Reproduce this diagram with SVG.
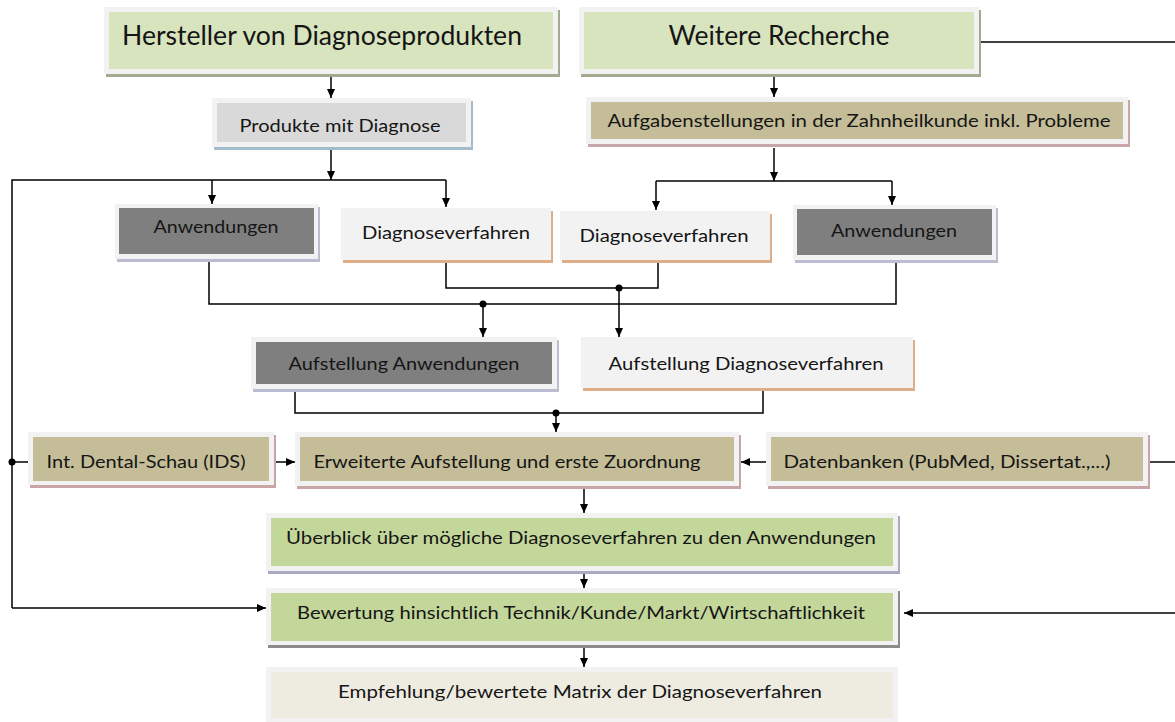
<svg xmlns="http://www.w3.org/2000/svg" width="1175" height="722" viewBox="0 0 1175 722">
  <style>
    text { font-family: "Lato", "Liberation Sans", sans-serif; fill: #151515; text-anchor: middle; }
    .t  { font-size: 17.5px; }
    .tt { font-size: 27px; }
    .frame { fill: #f2f2f2; }
    .f-green  { fill: #d7e4bd; }
    .f-green2 { fill: #c4d79b; }
    .f-gray   { fill: #d9d9d9; }
    .f-tan    { fill: #c4bd97; }
    .f-dark   { fill: #7f7f7f; }
    .f-light  { fill: #f2f2f2; }
    .f-cream  { fill: #eeece1; }
    .s-green  { fill: #a2aa8f; }
    .s-blue   { fill: #a3bccd; }
    .s-pink   { fill: #c8a6a8; }
    .s-lav    { fill: #bcbcd0; }
    .s-orange { fill: #dcae8a; }
    .s-lav2   { fill: #a9a9bf; }
    .s-dgray  { fill: #8c8c8c; }
    .line  { fill: none; stroke: #000; stroke-width: 1.5; }
    .arrow { fill: none; stroke: #000; stroke-width: 1.5; marker-end: url(#head); }
    .dot   { fill: #000; }
  </style>
  <defs>
    <marker id="head" markerUnits="userSpaceOnUse" markerWidth="10" markerHeight="10" refX="9" refY="4" orient="auto">
      <path d="M0,0 L9,4 L0,8 z" fill="#000"/>
    </marker>
  </defs>

  <rect width="1175" height="722" fill="#ffffff"/>

  <!-- connectors -->
  <g id="connectors">
    <line class="arrow" x1="331" y1="77" x2="331" y2="98"/>
    <line class="arrow" x1="331" y1="150" x2="331" y2="180"/>
    <polyline class="line" points="446,180 12,180 12,608"/>
    <line class="arrow" x1="212" y1="180" x2="212" y2="204"/>
    <line class="arrow" x1="446" y1="180" x2="446" y2="207"/>
    <polyline class="arrow" points="12,608 266,608"/>

    <line class="line" x1="979" y1="42" x2="1175" y2="42"/>
    <line class="arrow" x1="774" y1="77" x2="774" y2="97"/>
    <line class="arrow" x1="774" y1="148" x2="774" y2="181"/>
    <line class="line" x1="656" y1="181" x2="892" y2="181"/>
    <line class="arrow" x1="656" y1="181" x2="656" y2="210"/>
    <line class="arrow" x1="892" y1="181" x2="892" y2="205"/>

    <polyline class="line" points="209,262 209,304 896,304 896,263"/>
    <circle class="dot" cx="483" cy="304" r="3.5"/>
    <line class="arrow" x1="483" y1="304" x2="483" y2="337"/>
    <polyline class="line" points="446,262 446,288 658,288 658,262"/>
    <circle class="dot" cx="619" cy="288" r="3.5"/>
    <line class="arrow" x1="619" y1="288" x2="619" y2="337"/>

    <polyline class="line" points="295,391 295,413 763,413 763,390"/>
    <circle class="dot" cx="556" cy="413" r="3.5"/>
    <line class="arrow" x1="556" y1="413" x2="556" y2="432"/>

    <circle class="dot" cx="12" cy="462" r="3.5"/>
    <line class="line" x1="12" y1="462" x2="28" y2="462"/>
    <line class="arrow" x1="276" y1="462" x2="295" y2="462"/>
    <line class="arrow" x1="766" y1="462" x2="741" y2="462"/>
    <line class="line" x1="1150" y1="462" x2="1175" y2="462"/>

    <line class="arrow" x1="584" y1="489" x2="584" y2="513"/>
    <line class="arrow" x1="584" y1="574" x2="584" y2="588"/>
    <line class="arrow" x1="1175" y1="613" x2="904" y2="613"/>
    <line class="arrow" x1="584" y1="648" x2="584" y2="667"/>
  </g>

  <!-- nodes -->
  <g id="hersteller">
    <rect class="s-green" x="106" y="10" width="454" height="67"/>
    <rect class="frame" x="104" y="7" width="454" height="67"/>
    <rect class="f-green" x="109" y="12" width="444" height="57"/>
    <text class="tt" x="322" y="45" textLength="400" lengthAdjust="spacingAndGlyphs">Hersteller von Diagnoseprodukten</text>
  </g>

  <g id="recherche">
    <rect class="s-green" x="581" y="10" width="400" height="67"/>
    <rect class="frame" x="579" y="7" width="400" height="67"/>
    <rect class="f-green" x="584" y="12" width="390" height="57"/>
    <text class="tt" x="779" y="45" textLength="221" lengthAdjust="spacingAndGlyphs">Weitere Recherche</text>
  </g>

  <g id="produkte">
    <rect class="s-blue" x="214" y="101" width="259" height="49"/>
    <rect class="frame" x="212" y="98" width="259" height="49"/>
    <rect class="f-gray" x="217" y="103" width="249" height="39"/>
    <text class="t" x="340" y="132" textLength="201" lengthAdjust="spacingAndGlyphs">Produkte mit Diagnose</text>
  </g>

  <g id="aufgaben">
    <rect class="s-pink" x="588" y="100" width="542" height="47"/>
    <rect class="frame" x="586" y="97" width="542" height="47"/>
    <rect class="f-tan" x="591" y="102" width="532" height="37"/>
    <text class="t" x="859" y="127" textLength="503" lengthAdjust="spacingAndGlyphs">Aufgabenstellungen in der Zahnheilkunde inkl. Probleme</text>
  </g>

  <g id="anwendungen-1">
    <rect class="s-lav" x="117" y="207" width="203" height="55"/>
    <rect class="frame" x="115" y="204" width="203" height="55"/>
    <rect class="f-dark" x="119" y="208" width="195" height="46"/>
    <text class="t" x="216" y="233" textLength="125" lengthAdjust="spacingAndGlyphs">Anwendungen</text>
  </g>

  <g id="diagnose-1">
    <rect class="s-orange" x="343" y="211" width="210" height="52"/>
    <rect class="f-light" x="341" y="208" width="210" height="52"/>
    <text class="t" x="446" y="239" textLength="168" lengthAdjust="spacingAndGlyphs">Diagnoseverfahren</text>
  </g>

  <g id="diagnose-2">
    <rect class="s-orange" x="562" y="214" width="210" height="49"/>
    <rect class="f-light" x="560" y="211" width="210" height="49"/>
    <text class="t" x="664" y="242" textLength="169" lengthAdjust="spacingAndGlyphs">Diagnoseverfahren</text>
  </g>

  <g id="anwendungen-2">
    <rect class="s-lav" x="795" y="208" width="203" height="55"/>
    <rect class="frame" x="793" y="205" width="203" height="55"/>
    <rect class="f-dark" x="797" y="209" width="195" height="46"/>
    <text class="t" x="894" y="237" textLength="126" lengthAdjust="spacingAndGlyphs">Anwendungen</text>
  </g>

  <g id="aufstellung-anwendungen">
    <rect class="s-lav" x="253" y="340" width="306" height="52"/>
    <rect class="frame" x="251" y="337" width="306" height="52"/>
    <rect class="f-dark" x="256" y="342" width="296" height="42"/>
    <text class="t" x="404" y="370" textLength="231" lengthAdjust="spacingAndGlyphs">Aufstellung Anwendungen</text>
  </g>

  <g id="aufstellung-diagnose">
    <rect class="s-orange" x="583" y="340" width="332" height="51"/>
    <rect class="f-light" x="581" y="337" width="332" height="51"/>
    <text class="t" x="746" y="370" textLength="275" lengthAdjust="spacingAndGlyphs">Aufstellung Diagnoseverfahren</text>
  </g>

  <g id="ids">
    <rect class="s-pink" x="30" y="435" width="246" height="53"/>
    <rect class="frame" x="28" y="432" width="246" height="53"/>
    <rect class="f-tan" x="33" y="437" width="236" height="44"/>
    <text class="t" x="146" y="468" textLength="199" lengthAdjust="spacingAndGlyphs">Int. Dental-Schau (IDS)</text>
  </g>

  <g id="erweiterte">
    <rect class="s-pink" x="297" y="435" width="444" height="54"/>
    <rect class="frame" x="295" y="432" width="444" height="54"/>
    <rect class="f-tan" x="300" y="437" width="434" height="44"/>
    <text class="t" x="507" y="468" textLength="387" lengthAdjust="spacingAndGlyphs">Erweiterte Aufstellung und erste Zuordnung</text>
  </g>

  <g id="datenbanken">
    <rect class="s-pink" x="768" y="435" width="382" height="54"/>
    <rect class="frame" x="766" y="432" width="382" height="54"/>
    <rect class="f-tan" x="771" y="437" width="372" height="44"/>
    <text class="t" x="947" y="468" textLength="327" lengthAdjust="spacingAndGlyphs">Datenbanken (PubMed, Dissertat.,...)</text>
  </g>

  <g id="ueberblick">
    <rect class="s-lav2" x="268" y="516" width="632" height="58"/>
    <rect class="frame" x="266" y="513" width="632" height="58"/>
    <rect class="f-green2" x="271" y="518" width="622" height="48"/>
    <text class="t" x="581" y="544" textLength="590" lengthAdjust="spacingAndGlyphs">Überblick über mögliche Diagnoseverfahren zu den Anwendungen</text>
  </g>

  <g id="bewertung">
    <rect class="s-dgray" x="268" y="591" width="632" height="57"/>
    <rect class="frame" x="266" y="588" width="632" height="57"/>
    <rect class="f-green2" x="271" y="593" width="622" height="48"/>
    <text class="t" x="581" y="619" textLength="568" lengthAdjust="spacingAndGlyphs">Bewertung hinsichtlich Technik/Kunde/Markt/Wirtschaftlichkeit</text>
  </g>

  <g id="empfehlung">
    <rect class="frame" x="266" y="667" width="632" height="55"/>
    <rect class="f-cream" x="271" y="672" width="622" height="46"/>
    <text class="t" x="580" y="698" textLength="484" lengthAdjust="spacingAndGlyphs">Empfehlung/bewertete Matrix der Diagnoseverfahren</text>
  </g>
</svg>
